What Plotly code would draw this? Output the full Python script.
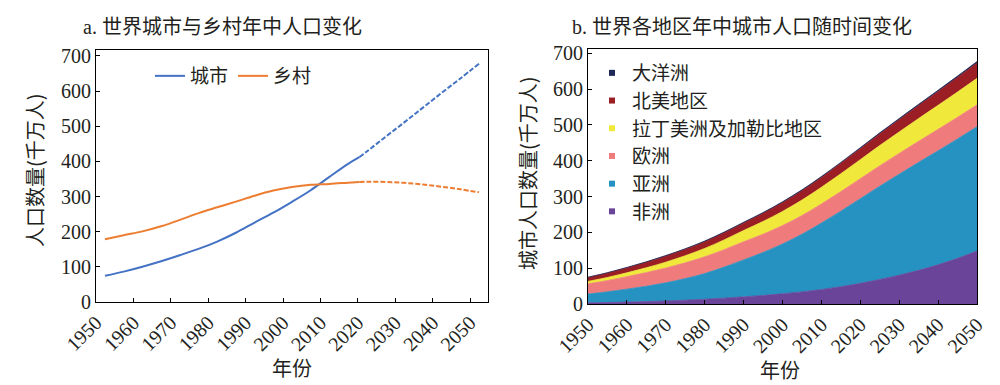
import plotly.graph_objects as go

# ---------------- data (千万人) ----------------
# Panel a: world urban / rural population
years_est = [1950, 1955, 1960, 1965, 1970, 1975, 1980, 1985, 1990, 1995,
             2000, 2005, 2010, 2015, 2018]
urban_est = [74.5, 86.5, 100.5, 116.0, 133.0, 151.0, 172.0, 197.0, 226.0, 254.0,
             285.0, 318.0, 356.0, 393.0, 412.0]
rural_est = [178.5, 190.0, 201.0, 215.5, 233.5, 253.0, 269.5, 285.5, 302.5, 317.0,
             327.0, 333.5, 336.0, 339.5, 341.5]
years_proj = [2018, 2020, 2025, 2030, 2035, 2040, 2045, 2050]
urban_proj = [412.0, 428.0, 470.0, 511.0, 553.0, 595.0, 636.0, 678.0]
rural_proj = [341.5, 342.0, 341.5, 339.0, 334.5, 328.0, 320.5, 312.0]

# Panel b: urban population by region
years_b = [1950, 1955, 1960, 1965, 1970, 1975, 1980, 1985, 1990, 1995, 2000,
           2005, 2010, 2015, 2020, 2025, 2030, 2035, 2040, 2045, 2050]
africa = [3.3, 4.2, 5.3, 6.8, 8.6, 10.7, 13.3, 16.4, 19.9, 23.9, 28.4,
          33.8, 40.3, 48.2, 57.6, 68.5, 80.5, 94.0, 109.5, 127.5, 148.0]
asia = [24.5, 29.8, 36.1, 42.7, 50.6, 60.3, 71.7, 86.6, 103.3, 120.0, 139.2,
        161.0, 185.6, 211.0, 236.5, 260.5, 282.0, 301.5, 318.5, 333.5, 347.0]
europe = [28.4, 31.5, 35.0, 38.2, 41.2, 44.1, 46.8, 48.8, 50.5, 51.0, 51.4,
          52.2, 53.4, 54.7, 55.9, 57.0, 58.0, 58.9, 59.7, 60.4, 61.0]
latam = [6.9, 8.6, 10.6, 13.4, 16.4, 19.7, 23.3, 27.2, 31.4, 35.5, 39.4,
         43.1, 46.5, 49.8, 53.0, 56.5, 60.0, 63.5, 67.0, 70.5, 74.0]
namerica = [11.0, 12.5, 14.0, 15.5, 17.1, 18.0, 19.0, 20.0, 21.2, 22.9, 24.7,
            26.2, 27.6, 29.0, 30.6, 32.3, 34.2, 36.3, 38.5, 40.7, 43.0]
oceania = [0.8, 0.9, 1.1, 1.3, 1.4, 1.5, 1.6, 1.7, 1.9, 2.0, 2.2,
           2.4, 2.5, 2.7, 2.9, 3.1, 3.2, 3.4, 3.6, 3.8, 4.0]

tick_years = [1950, 1960, 1970, 1980, 1990, 2000, 2010, 2020, 2030, 2040, 2050]
y_ticks = [0, 100, 200, 300, 400, 500, 600, 700]

region_names = ["非洲", "亚洲", "欧洲", "拉丁美洲及加勒比地区", "北美地区", "大洋洲"]
region_values = [africa, asia, europe, latam, namerica, oceania]
region_colors = ["#6A4499", "#2592C2", "#EF7B7D", "#F1E83C", "#9C1E25", "#1E2857"]

# ---------------- style ----------------
FONT = "Liberation Serif, Noto Sans CJK SC, serif"
CJK = "Noto Sans CJK SC, Liberation Serif, sans-serif"
TXT = "#231F20"
BLUE = "#4472C4"
ORANGE = "#ED7D31"
tick_offset = 2.4   # panel a tick marks sit left of the data years

fig = go.Figure()

# panel a
fig.add_trace(go.Scatter(x=years_est, y=urban_est, mode="lines", name="城市",
                         line=dict(color=BLUE, width=2, shape="spline"),
                         xaxis="x", yaxis="y", legend="legend"))
fig.add_trace(go.Scatter(x=years_est, y=rural_est, mode="lines", name="乡村",
                         line=dict(color=ORANGE, width=2, shape="spline"),
                         xaxis="x", yaxis="y", legend="legend"))
fig.add_trace(go.Scatter(x=years_proj, y=urban_proj, mode="lines", showlegend=False,
                         line=dict(color=BLUE, width=2, dash="5px,2px", shape="spline"),
                         xaxis="x", yaxis="y"))
fig.add_trace(go.Scatter(x=years_proj, y=rural_proj, mode="lines", showlegend=False,
                         line=dict(color=ORANGE, width=2, dash="5px,2px", shape="spline"),
                         xaxis="x", yaxis="y"))

# panel b stacked areas
for name, vals, col in zip(region_names, region_values, region_colors):
    fig.add_trace(go.Scatter(x=years_b, y=vals, mode="lines", stackgroup="one",
                             line=dict(color=col, width=0.8, shape="spline"),
                             fillcolor=col, showlegend=False, name=name,
                             xaxis="x2", yaxis="y2"))
# legend entries for panel b (top to bottom)
for name, col in reversed(list(zip(region_names, region_colors))):
    fig.add_trace(go.Scatter(x=[None], y=[None], mode="markers", name=name,
                             marker=dict(symbol="square", size=6, color=col),
                             xaxis="x2", yaxis="y2", legend="legend2"))

axis_common = dict(showline=True, linecolor="#000000", linewidth=1, mirror=True,
                   ticks="inside", ticklen=4, tickcolor="#000000", showgrid=False,
                   zeroline=False, automargin=False,
                   tickfont=dict(family=FONT, size=20, color=TXT))

fig.update_layout(
    width=1000, height=385,
    margin=dict(l=0, r=0, t=0, b=0, autoexpand=False),
    paper_bgcolor="white", plot_bgcolor="white",
    font=dict(family=FONT, size=18, color=TXT),
    xaxis=dict(domain=[0.096, 0.488], range=[1950 - tick_offset, 2050 + tick_offset],
               tickvals=[t - tick_offset for t in tick_years],
               ticktext=[str(t) for t in tick_years], tickangle=-45, anchor="y",
               **axis_common),
    yaxis=dict(domain=[1 - 302 / 385, 1 - 50 / 385], range=[0, 717],
               tickvals=y_ticks, anchor="x", **axis_common),
    xaxis2=dict(domain=[0.588, 0.977], range=[1950, 2050],
                tickvals=tick_years, tickangle=-45, anchor="y2", **axis_common),
    yaxis2=dict(domain=[1 - 304 / 385, 1 - 49 / 385], range=[0, 712],
                tickvals=y_ticks, anchor="x2", **axis_common),
    legend=dict(orientation="h", x=0.150, y=1 - 76 / 385, xanchor="left", yanchor="middle",
                bgcolor="rgba(0,0,0,0)", font=dict(family=CJK, size=19, color=TXT),
                itemwidth=30, tracegroupgap=0, traceorder="normal"),
    legend2=dict(orientation="v", x=0.592, y=1 - 54 / 385, xanchor="left", yanchor="top",
                 bgcolor="rgba(0,0,0,0)", font=dict(family=CJK, size=19, color=TXT),
                 itemwidth=30, tracegroupgap=0, traceorder="normal"),
    annotations=[
        dict(text="a. 世界城市与乡村年中人口变化", x=0.222, y=1 - 27 / 385, xref="paper",
             yref="paper", showarrow=False, xanchor="center", yanchor="middle",
             font=dict(family=FONT, size=20, color=TXT)),
        dict(text="b. 世界各地区年中城市人口随时间变化", x=0.742, y=1 - 27 / 385, xref="paper",
             yref="paper", showarrow=False, xanchor="center", yanchor="middle",
             font=dict(family=FONT, size=20, color=TXT)),
        dict(text="年份", x=0.292, y=1 - 367 / 385, xref="paper", yref="paper",
             showarrow=False, xanchor="center", yanchor="middle",
             font=dict(family=CJK, size=20, color=TXT)),
        dict(text="年份", x=0.780, y=1 - 369 / 385, xref="paper", yref="paper",
             showarrow=False, xanchor="center", yanchor="middle",
             font=dict(family=CJK, size=20, color=TXT)),
        dict(text="人口数量(千万人)", x=0.035, y=1 - 170 / 385, xref="paper", yref="paper",
             showarrow=False, xanchor="center", yanchor="middle", textangle=-90,
             font=dict(family=CJK, size=20, color=TXT)),
        dict(text="城市人口数量(千万人)", x=0.527, y=1 - 173 / 385, xref="paper", yref="paper",
             showarrow=False, xanchor="center", yanchor="middle", textangle=-90,
             font=dict(family=CJK, size=20, color=TXT)),
    ],
)

fig.write_html("out.html",
               config={"displayModeBar": False},
               post_script="document.body.style.margin='0px';"
                           "document.body.style.overflow='hidden';")
